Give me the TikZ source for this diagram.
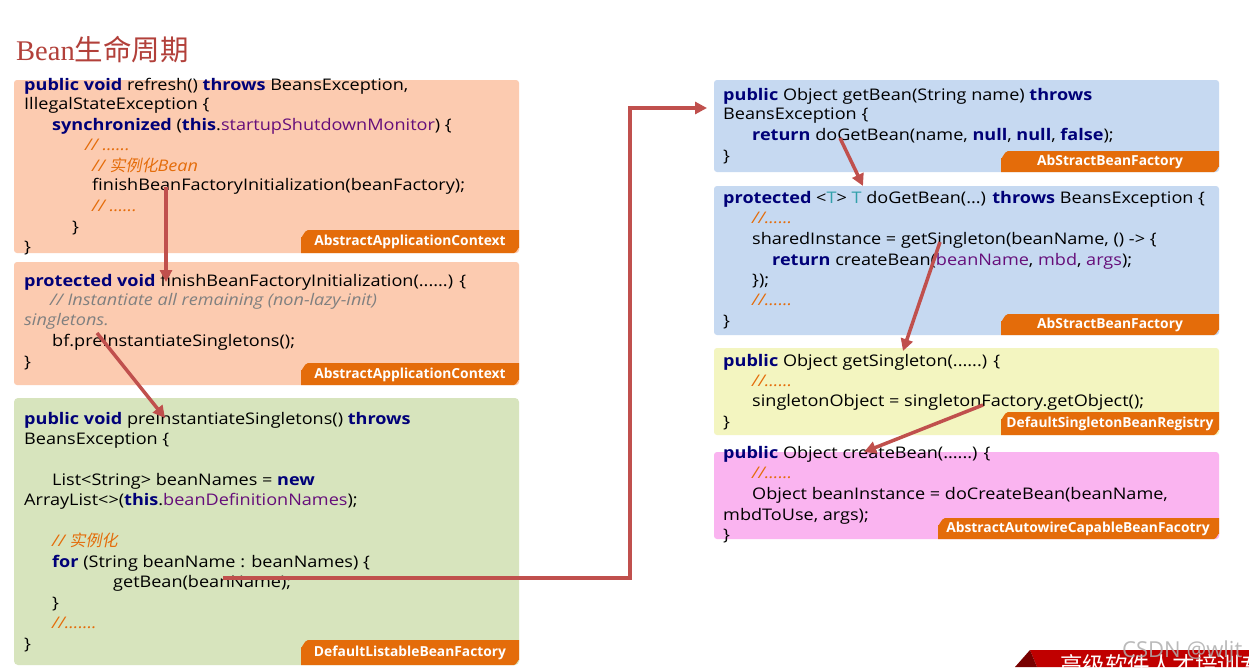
\documentclass[tikz,border=0pt]{standalone}
\usepackage{fontspec}
\setmainfont{Open Sans}[FakeStretch=1.13]
\newfontfamily\lblfont{Open Sans}
\newfontfamily\cjk{Noto Sans CJK SC}
\newfontfamily\cjki{Noto Sans CJK SC}[FakeSlant=0.2]
\newfontfamily\titlefont{Liberation Serif}
\usetikzlibrary{arrows.meta}
\definecolor{kwc}{RGB}{0,0,120}
\definecolor{fldc}{RGB}{102,14,122}
\definecolor{cmc}{RGB}{228,108,10}
\definecolor{grc}{RGB}{128,128,128}
\definecolor{tealc}{RGB}{49,160,170}
\definecolor{salmonc}{RGB}{252,203,176}
\definecolor{greenc}{RGB}{215,228,189}
\definecolor{bluec}{RGB}{198,217,241}
\definecolor{yellowc}{RGB}{243,245,192}
\definecolor{pinkc}{RGB}{250,180,240}
\definecolor{lblc}{RGB}{228,108,10}
\definecolor{arrc}{RGB}{192,80,77}
\definecolor{titlec}{RGB}{178,64,58}
\definecolor{bannerc}{RGB}{192,0,0}
\definecolor{bannerd}{RGB}{120,0,0}
\definecolor{wmc}{RGB}{175,175,175}
\newcommand{\kwd}[1]{\textbf{\textcolor{kwc}{#1}}}
\newcommand{\fld}[1]{\textcolor{fldc}{#1}}
\newcommand{\cmt}[1]{\textit{\textcolor{cmc}{#1}}}
\tikzset{
  code/.style={anchor=base west, inner sep=0pt, font=\fontsize{16}{19}\selectfont},
  lbltext/.style={text=white, inner sep=0pt, font=\lblfont\bfseries\fontsize{13.8}{16}\selectfont},
  flow/.style={draw=arrc, line width=3.5pt, -{Triangle[length=12pt,width=12pt]}},
}
\begin{document}
\begin{tikzpicture}[x=1pt,y=-1pt]
\useasboundingbox (0,0) rectangle (1249,667);
\fill[white] (0,0) rectangle (1249,667);
% title
\node[anchor=base west, inner sep=0pt, text=titlec, font=\fontsize{28.5}{31}\selectfont] (title) at (16,60) {\titlefont Bean\cjk 生命周期};
% boxes
\fill[salmonc, rounded corners=3pt] (14,80) rectangle (519,253);
\fill[salmonc, rounded corners=3pt] (14,262) rectangle (519,385);
\fill[greenc, rounded corners=4pt] (14,398) rectangle (519,665);
\fill[bluec, rounded corners=3pt] (714,80) rectangle (1219,172);
\fill[bluec, rounded corners=3pt] (714,186) rectangle (1219,335);
\fill[yellowc, rounded corners=3pt] (714,348) rectangle (1219,435);
\fill[pinkc, rounded corners=3pt] (714,452) rectangle (1219,539);
% labels
\fill[lblc] (301,253) -- (301,237) to[out=-90,in=180] (308,230) -- (519,230) -- (519,248) to[out=90,in=0] (514,253) -- cycle;
\node[lbltext] (l1) at (410,242) {AbstractApplicationContext};
\fill[lblc] (301,385) -- (301,370) to[out=-90,in=180] (308,363) -- (519,363) -- (519,380) to[out=90,in=0] (514,385) -- cycle;
\node[lbltext] (l2) at (410,375) {AbstractApplicationContext};
\fill[lblc] (301,665) -- (301,647) to[out=-90,in=180] (308,640) -- (519,640) -- (519,660) to[out=90,in=0] (514,665) -- cycle;
\node[lbltext] (l3) at (410,653) {DefaultListableBeanFactory};
\fill[lblc] (1001,172) -- (1001,158) to[out=-90,in=180] (1008,151) -- (1219,151) -- (1219,167) to[out=90,in=0] (1214,172) -- cycle;
\node[lbltext] (l4) at (1110,162) {AbStractBeanFactory};
\fill[lblc] (1001,335) -- (1001,321) to[out=-90,in=180] (1008,314) -- (1219,314) -- (1219,330) to[out=90,in=0] (1214,335) -- cycle;
\node[lbltext] (l5) at (1110,325) {AbStractBeanFactory};
\fill[lblc] (1001,435) -- (1001,419) to[out=-90,in=180] (1008,412) -- (1219,412) -- (1219,430) to[out=90,in=0] (1214,435) -- cycle;
\node[lbltext] (l6) at (1110,424) {DefaultSingletonBeanRegistry};
\fill[lblc] (938,539) -- (938,525) to[out=-90,in=180] (945,518) -- (1219,518) -- (1219,534) to[out=90,in=0] (1214,539) -- cycle;
\node[lbltext] (l7) at (1078,529) {AbstractAutowireCapableBeanFacotry};
% box 1 code
\node[code] (b1a) at (24,90) {\kwd{public void} refresh() \kwd{throws} BeansException,};
\node[code] (b1b) at (24,109) {IllegalStateException \{};
\node[code] (b1c) at (52,130) {\kwd{synchronized} (\kwd{this}.\fld{startupShutdownMonitor}) \{};
\node[code] (b1d) at (85,150) {\cmt{// ......}};
\node[code] (b1e) at (92,171) {\cmt{// {\cjki 实例化}Bean}};
\node[code] (b1f) at (92,190) {finishBeanFactoryInitialization(beanFactory);};
\node[code] (b1g) at (92,211) {\cmt{// ......}};
\node[code] (b1h) at (72,232) {\}};
\node[code] (b1i) at (24,252) {\}};
% box 2 code
\node[code] (b2a) at (24,286) {\kwd{protected void} finishBeanFactoryInitialization(......) \{};
\node[code] (b2b) at (50,305) {\textit{\textcolor{grc}{// Instantiate all remaining (non-lazy-init)}}};
\node[code] (b2c) at (24,325) {\textit{\textcolor{grc}{singletons.}}};
\node[code] (b2d) at (52,346) {bf.preInstantiateSingletons();};
\node[code] (b2e) at (24,367) {\}};
% box 3 code
\node[code] (b3a) at (24,424) {\kwd{public void} preInstantiateSingletons() \kwd{throws}};
\node[code] (b3b) at (24,444) {BeansException \{};
\node[code] (b3c) at (52,485) {List<String> beanNames = \kwd{new}};
\node[code] (b3d) at (24,505) {ArrayList<>(\kwd{this}.\fld{beanDefinitionNames});};
\node[code] (b3e) at (52,546) {\cmt{// {\cjki 实例化}}};
\node[code] (b3f) at (52,567) {\kwd{for} (String beanName : beanNames) \{};
\node[code] (b3g) at (113,587) {getBean(beanName);};
\node[code] (b3h) at (52,608) {\}};
\node[code] (b3i) at (52,628) {\cmt{//.......}};
\node[code] (b3j) at (24,649) {\}};
% right box A
\node[code] (r1a) at (723,100) {\kwd{public} Object getBean(String name) \kwd{throws}};
\node[code] (r1b) at (723,119) {BeansException \{};
\node[code] (r1c) at (752,140) {\kwd{return} doGetBean(name, \kwd{null}, \kwd{null}, \kwd{false});};
\node[code] (r1d) at (723,161) {\}};
% right box B
\node[code] (r2a) at (723,203) {\kwd{protected} <\textcolor{tealc}{T}> \textcolor{tealc}{T} doGetBean(...) \kwd{throws} BeansException \{};
\node[code] (r2b) at (752,223) {\cmt{//......}};
\node[code] (r2c) at (752,244) {sharedInstance = getSingleton(beanName, () -> \{};
\node[code] (r2d) at (772,265) {\kwd{return} createBean(\fld{beanName}, \fld{mbd}, \fld{args});};
\node[code] (r2e) at (752,285) {\});};
\node[code] (r2f) at (752,305) {\cmt{//......}};
\node[code] (r2g) at (723,326) {\}};
% right box C
\node[code] (r3a) at (723,366) {\kwd{public} Object getSingleton(......) \{};
\node[code] (r3b) at (752,386) {\cmt{//......}};
\node[code] (r3c) at (752,406) {singletonObject = singletonFactory.getObject();};
\node[code] (r3d) at (723,427) {\}};
% right box D
\node[code] (r4a) at (723,458) {\kwd{public} Object createBean(......) \{};
\node[code] (r4b) at (752,478) {\cmt{//......}};
\node[code] (r4c) at (752,499) {Object beanInstance = doCreateBean(beanName,};
\node[code] (r4d) at (723,520) {mbdToUse, args);};
\node[code] (r4e) at (723,540) {\}};
% arrow end points
\coordinate (p1s) at (166,187);
\coordinate (p1e) at (166,282);
\coordinate (p2s) at (97,333);
\coordinate (p2e) at (165,418);
\coordinate (p3s) at (223,578);
\coordinate (p3a) at (630,578);
\coordinate (p3b) at (630,108);
\coordinate (p3e) at (707,108);
\coordinate (p4s) at (840,138);
\coordinate (p4e) at (863,186);
\coordinate (p5s) at (940,242);
\coordinate (p5e) at (903,351);
\coordinate (p6s) at (983,405);
\coordinate (p6e) at (864,452);
\draw[flow] (p1s) -- (p1e);
\draw[flow] (p2s) -- (p2e);
\draw[flow] (p3s) -- (p3a) -- (p3b) -- (p3e);
\draw[flow] (p4s) -- (p4e);
\draw[flow] (p5s) -- (p5e);
\draw[flow] (p6s) -- (p6e);
% banner
\begin{scope}
\clip (0,0) rectangle (1249,667);
\fill[bannerc] (1030,650) -- (1249,650) -- (1249,667) -- (1037,667) -- cycle;
\fill[bannerd] (1015,667) -- (1030,650) -- (1037,667) -- cycle;
\node[anchor=north west, inner sep=0pt, text=white, font=\fontsize{22.5}{24}\selectfont] (banner) at (1060,654) {\cjk 高级软件人才培训专};
\node[anchor=base west, inner sep=0pt, text=wmc, opacity=0.85, font=\lblfont\fontsize{22}{24}\selectfont] (wm) at (1122,657) {CSDN @wljt};
\end{scope}
\end{tikzpicture}
\end{document}
